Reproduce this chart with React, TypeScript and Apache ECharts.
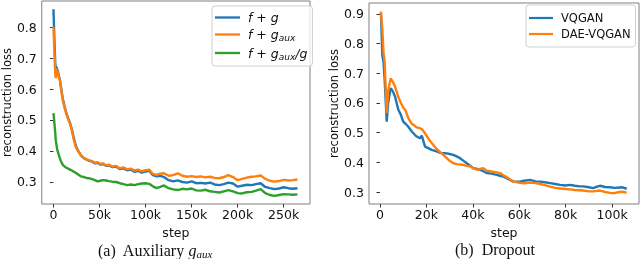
import React, { useEffect, useRef } from "react";
import * as echarts from "echarts";

// ---- Left panel (a): steps in thousands ----
const stepsA = [0, 1, 2, 2.5, 3, 4, 5, 6, 7, 8, 10, 12, 14, 16, 18, 20, 22, 24, 26, 28, 30, 33, 36, 39, 42, 45, 48, 51, 54, 57, 60, 64, 68, 72, 76, 80, 84, 88, 92, 96, 100, 104, 108, 112, 116, 120, 125, 130, 135, 140, 145, 150, 155, 160, 165, 170, 175, 180, 185, 190, 195, 200, 205, 210, 215, 220, 225, 230, 235, 240, 245, 250, 255, 260, 265];
const fg = [0.857, 0.76, 0.68, 0.665, 0.672, 0.665, 0.655, 0.64, 0.63, 0.61, 0.57, 0.545, 0.522, 0.505, 0.49, 0.47, 0.443, 0.42, 0.405, 0.395, 0.385, 0.377, 0.372, 0.368, 0.366, 0.36, 0.362, 0.356, 0.358, 0.352, 0.354, 0.348, 0.35, 0.342, 0.344, 0.338, 0.34, 0.333, 0.336, 0.33, 0.334, 0.336, 0.322, 0.318, 0.32, 0.316, 0.306, 0.302, 0.305, 0.3, 0.298, 0.302, 0.296, 0.297, 0.295, 0.298, 0.292, 0.29, 0.293, 0.298, 0.295, 0.285, 0.288, 0.291, 0.29, 0.293, 0.296, 0.284, 0.28, 0.277, 0.279, 0.283, 0.28, 0.278, 0.28];
const fgAux = [0.8, 0.72, 0.645, 0.635, 0.665, 0.66, 0.65, 0.635, 0.629, 0.605, 0.565, 0.54, 0.52, 0.502, 0.488, 0.465, 0.437, 0.415, 0.402, 0.395, 0.385, 0.378, 0.373, 0.37, 0.367, 0.362, 0.364, 0.358, 0.36, 0.354, 0.356, 0.35, 0.352, 0.344, 0.347, 0.341, 0.343, 0.337, 0.34, 0.334, 0.338, 0.34, 0.326, 0.323, 0.327, 0.328, 0.32, 0.322, 0.328, 0.32, 0.317, 0.319, 0.316, 0.318, 0.315, 0.317, 0.313, 0.312, 0.316, 0.322, 0.316, 0.306, 0.31, 0.314, 0.317, 0.318, 0.321, 0.31, 0.304, 0.301, 0.303, 0.307, 0.305, 0.306, 0.308];
const fgAuxG = [0.522, 0.49, 0.455, 0.435, 0.425, 0.405, 0.395, 0.385, 0.376, 0.368, 0.356, 0.35, 0.346, 0.343, 0.34, 0.337, 0.333, 0.33, 0.326, 0.322, 0.318, 0.316, 0.313, 0.312, 0.309, 0.306, 0.302, 0.304, 0.306, 0.305, 0.303, 0.301, 0.3, 0.296, 0.293, 0.29, 0.292, 0.29, 0.293, 0.295, 0.296, 0.294, 0.286, 0.28, 0.284, 0.289, 0.28, 0.276, 0.274, 0.278, 0.276, 0.279, 0.273, 0.272, 0.275, 0.27, 0.268, 0.266, 0.27, 0.274, 0.27, 0.264, 0.263, 0.267, 0.268, 0.272, 0.277, 0.264, 0.258, 0.255, 0.258, 0.261, 0.26, 0.259, 0.26];
const xTicksA = [0, 50, 100, 150, 200, 250];
const yTicksA = [0.3, 0.4, 0.5, 0.6, 0.7, 0.8];

// ---- Right panel (b): steps in thousands ----
const stepsB = [0.4, 1, 1.5, 2, 2.9, 3.5, 4.6, 5.5, 6.5, 7.9, 9, 10, 11, 12.2, 13.7, 15, 15.8, 17.2, 18, 19.4, 21, 22.3, 24.4, 26, 28, 30, 31.6, 33, 34.5, 36, 37.4, 39, 40.2, 42, 43.1, 44.5, 46, 48, 50.3, 52, 53.2, 55, 57.5, 60.3, 62, 64.7, 67, 69, 71, 73.3, 75.5, 77.6, 80, 81.9, 84, 86, 87.6, 90, 91.9, 93.5, 94.8, 97, 99.1, 101, 103, 104.5, 106.3];
const vqgan = [0.905, 0.76, 0.74, 0.68, 0.537, 0.6, 0.65, 0.64, 0.621, 0.577, 0.56, 0.537, 0.53, 0.52, 0.504, 0.493, 0.487, 0.481, 0.49, 0.453, 0.447, 0.442, 0.437, 0.432, 0.431, 0.428, 0.425, 0.42, 0.414, 0.405, 0.397, 0.388, 0.38, 0.378, 0.375, 0.37, 0.364, 0.362, 0.358, 0.354, 0.352, 0.345, 0.335, 0.335, 0.338, 0.341, 0.336, 0.335, 0.333, 0.33, 0.327, 0.324, 0.322, 0.324, 0.321, 0.319, 0.319, 0.316, 0.313, 0.318, 0.321, 0.317, 0.316, 0.314, 0.315, 0.316, 0.311];
const daeVqgan = [0.908, 0.85, 0.77, 0.74, 0.566, 0.64, 0.683, 0.672, 0.655, 0.62, 0.6, 0.585, 0.575, 0.549, 0.53, 0.523, 0.518, 0.515, 0.512, 0.498, 0.478, 0.465, 0.445, 0.434, 0.42, 0.405, 0.397, 0.394, 0.393, 0.391, 0.388, 0.386, 0.38, 0.375, 0.378, 0.38, 0.372, 0.369, 0.366, 0.363, 0.356, 0.348, 0.335, 0.331, 0.329, 0.332, 0.33, 0.327, 0.323, 0.318, 0.314, 0.312, 0.31, 0.309, 0.307, 0.306, 0.305, 0.302, 0.302, 0.304, 0.305, 0.3, 0.297, 0.296, 0.3, 0.301, 0.298];
const xTicksB = [0, 20, 40, 60, 80, 100];
const yTicksB = [0.3, 0.4, 0.5, 0.6, 0.7, 0.8, 0.9];

const BLUE = "#1f77b4";
const ORANGE = "#ff7f0e";
const GREEN = "#2ca02c";
const FONT = "DejaVu Sans";
const FRAME = "#7f7f7f";

const pair = (xs: number[], ys: number[]) => xs.map((x, i) => [x, ys[i]]);
const kFmt = (v: number) => (v === 0 ? "0" : `${v}k`);

const lineIcon = "path://M0,0 L26,0 L26,2.4 L0,2.4 Z";

export default function App() {
  const ref = useRef<HTMLDivElement>(null);
  useEffect(() => {
    if (!ref.current) return;
    const chart = echarts.init(ref.current, null, { renderer: "svg" });

    const xAxisBase = (min: number, max: number, ticks: number[], gridIndex: number) => ({
      type: "value",
      gridIndex,
      min,
      max,
      name: "step",
      nameLocation: "middle",
      nameGap: 10,
      nameTextStyle: { fontFamily: FONT, fontSize: 12.5, color: "#111" },
      splitLine: { show: false },
      axisLine: { show: false },
      axisTick: { show: true, length: 3.5, customValues: ticks, lineStyle: { color: "#333" } },
      axisLabel: { customValues: ticks, formatter: kFmt, fontFamily: FONT, fontSize: 12.5, color: "#111", margin: 4 },
    });
    const yAxisBase = (min: number, max: number, ticks: number[], gridIndex: number) => ({
      type: "value",
      gridIndex,
      min,
      max,
      name: "reconstruction loss",
      nameLocation: "middle",
      nameGap: 24,
      nameTextStyle: { fontFamily: FONT, fontSize: 11.5, color: "#111" },
      splitLine: { show: false },
      axisLine: { show: false },
      axisTick: { show: true, length: 3.5, customValues: ticks, lineStyle: { color: "#333" } },
      axisLabel: { customValues: ticks, formatter: (v: number) => v.toFixed(1), fontFamily: FONT, fontSize: 12.5, color: "#111", margin: 5 },
    });

    const lineSeries = (name: string, data: number[][], color: string, idx: number) => ({
      type: "line",
      name,
      data,
      xAxisIndex: idx,
      yAxisIndex: idx,
      showSymbol: false,
      symbol: "none",
      lineStyle: { color, width: 2.4 },
      itemStyle: { color },
      silent: true,
    });

    const legendText = {
      fontFamily: FONT,
      fontSize: 12,
      color: "#111",
      padding: [0, 0, 0, 3],
      rich: {
        i: { fontFamily: FONT, fontStyle: "italic", fontSize: 12.5, color: "#111" },
        s: { fontFamily: FONT, fontStyle: "italic", fontSize: 9, color: "#111", padding: [7, 0, 0, 0] },
      },
    };

    chart.setOption({
      animation: false,
      grid: [
        { left: 35, top: 1, width: 275, height: 203, show: true, borderColor: FRAME, borderWidth: 1, backgroundColor: "transparent" },
        { left: 369, top: 3, width: 270, height: 201, show: true, borderColor: FRAME, borderWidth: 1, backgroundColor: "transparent" },
      ],
      xAxis: [xAxisBase(-12.7, 278.6, xTicksA, 0), xAxisBase(-4.74, 111.6, xTicksB, 1)],
      yAxis: [yAxisBase(0.229, 0.8839, yTicksA, 0), yAxisBase(0.2596, 0.937, yTicksB, 1)],
      legend: [
        {
          data: ["f+g", "f+g_aux", "f+g_aux/g"],
          orient: "vertical",
          left: 212,
          top: 6,
          padding: [5, 5, 5, 3],
          itemGap: 4,
          itemWidth: 25,
          itemHeight: 14,
          icon: lineIcon,
          borderColor: "#d0d0d0",
          borderWidth: 1,
          borderRadius: 3,
          backgroundColor: "rgba(255,255,255,0.8)",
          selectedMode: false,
          textStyle: legendText,
          formatter: (n: string) =>
            n === "f+g" ? "{i|f + g}" : n === "f+g_aux" ? "{i|f + g}{s|aux}" : "{i|f + g}{s|aux}{i|/g}",
        },
        {
          data: ["VQGAN", "DAE-VQGAN"],
          orient: "vertical",
          left: 526,
          top: 5,
          padding: [7, 5, 7, 3],
          itemGap: 4,
          itemWidth: 24,
          itemHeight: 14,
          icon: lineIcon,
          borderColor: "#d0d0d0",
          borderWidth: 1,
          borderRadius: 3,
          backgroundColor: "rgba(255,255,255,0.8)",
          selectedMode: false,
          textStyle: { fontFamily: FONT, fontSize: 11.5, color: "#111", padding: [0, 0, 0, 3] },
        },
      ],
      series: [
        lineSeries("f+g", pair(stepsA, fg), BLUE, 0),
        lineSeries("f+g_aux", pair(stepsA, fgAux), ORANGE, 0),
        lineSeries("f+g_aux/g", pair(stepsA, fgAuxG), GREEN, 0),
        lineSeries("VQGAN", pair(stepsB, vqgan), BLUE, 1),
        lineSeries("DAE-VQGAN", pair(stepsB, daeVqgan), ORANGE, 1),
      ],
      graphic: [
        {
          type: "text",
          x: 155,
          y: 241,
          style: {
            text: "(a)  Auxiliary {m|g}{s|aux}",
            align: "center",
            fontFamily: "Liberation Serif",
            fontSize: 16,
            fill: "#111",
            rich: {
              m: { fontFamily: "Liberation Serif", fontStyle: "italic", fontSize: 16, fill: "#111" },
              s: { fontFamily: "Liberation Serif", fontStyle: "italic", fontSize: 11, fill: "#111", padding: [7, 0, 0, 0] },
            },
          },
        },
        {
          type: "text",
          x: 495,
          y: 241,
          style: {
            text: "(b)  Dropout",
            align: "center",
            fontFamily: "Liberation Serif",
            fontSize: 16,
            fill: "#111",
          },
        },
      ],
    });
    return () => chart.dispose();
  }, []);
  return <div ref={ref} style={{ position: "fixed", left: 0, top: 0, width: 640, height: 259 }} />;
}
